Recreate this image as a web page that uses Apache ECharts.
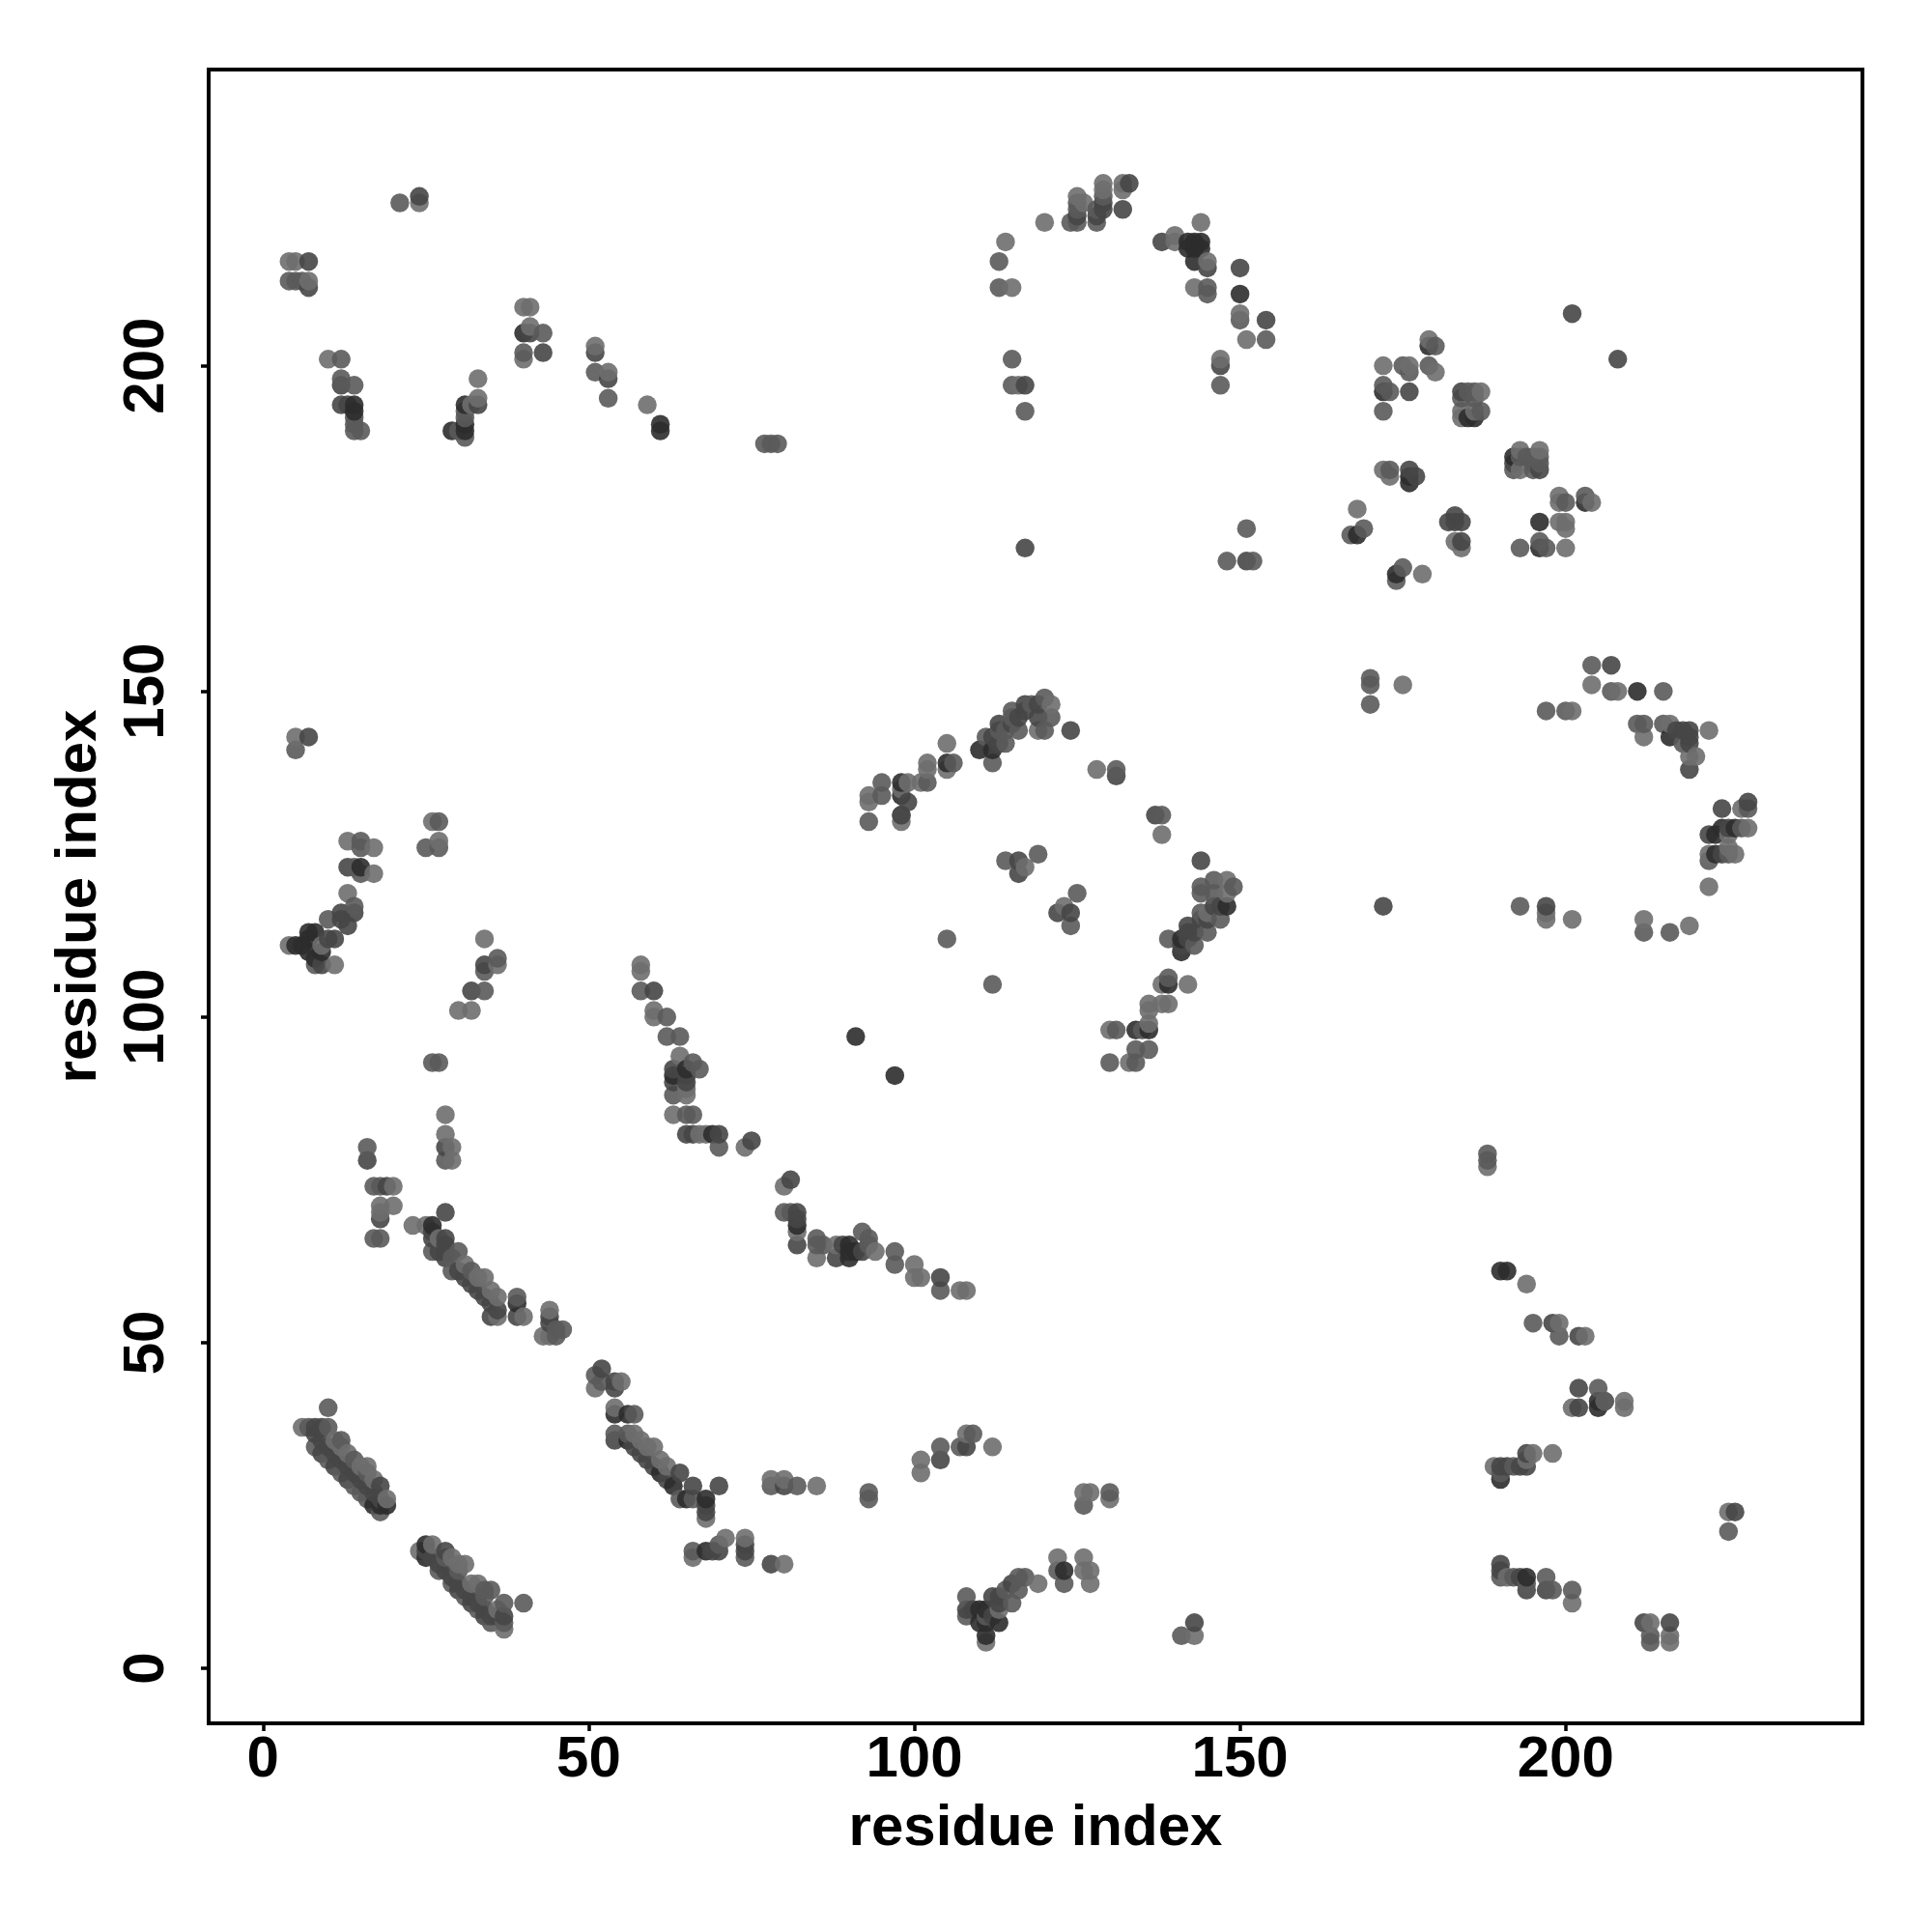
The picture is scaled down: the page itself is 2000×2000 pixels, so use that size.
<!DOCTYPE html>
<html><head><meta charset="utf-8">
<script src="https://cdn.jsdelivr.net/npm/echarts@6/dist/echarts.min.js"></script>
<style>html,body{margin:0;padding:0;background:#fff}#c{width:2000px;height:2000px}</style></head>
<body><div id="c"></div>
<script>
const tickLabels = [0, 50, 100, 150, 200];
const axisTitle = 'residue index';
const lightPoints = [
[58,108],[58,107],[60,101],[60,100],[64,94],[63,85],[65,89],[65,88],[67,82],[68,82],[74,80],[80,74],
[82,67],[85,63],[88,65],[94,64],[100,62],[100,60],[101,60],[107,58],[108,58],
[93,134],[93,133],[98,130],[98,135],[99,136],[101,136],[102,139],[102,138],[105,142],[105,138],[119,144],[121,148],[128,138],[138,128],[117,123],[123,117],
[148,121],[148,119],[145,116],[138,105],[142,105],[136,102],[138,102],[139,102],[136,101],[136,99],[130,98],[133,93],
[5,143],[26,130],[27,127],[13,127],[17,126],[17,122],[13,119],[4,111],[9,111],[11,108],[34,112],[36,108],[30,101],[32,101],
[28,85],[28,82],[29,80],[29,78],[20,74],[18,71],[20,71],[18,70],[23,68],[25,68],[27,66],
[31,62],[34,60],[36,57],[36,54],[35,58],[33,60],[40,54],[44,55],[43,51],[44,51],[51,43],[55,44],[54,40],[57,36],[60,34],[59,34],[61,32],[62,31],[68,23],[58,35],
[6,37],[13,33],[15,31],[16,31],[19,26],[11,35],[12,34],[17,29],[24,18],[26,19],[29,17],[31,16],[30,16],[33,13],[36,9],[37,6],[32,13],
[78,29],[80,29],[85,28],[101,32],[101,30],[108,36],[112,34],[126,27],[127,27],[130,26],[122,17],[126,17],[126,15],[127,15],[127,13],[119,13],[113,9],[111,4],[143,5],[74,20],[80,16],[66,17],[71,20],
[188,77],[194,59],[199,53],[203,51],[201,40],[206,41],[209,41],[209,40],[195,33],[198,33],[189,31],[194,32],[191,14],[201,10],[213,7],[216,5],[216,4],[225,24],
[175,151],[204,151],[208,150],[201,147],[212,143],[216,145],[219,140],[220,140],[222,144],[227,132],[228,129],[225,128],[222,125],[225,126],[226,125],[222,120],[197,116],[197,115],[201,115],[212,115],[219,114],
[172,200],[176,200],[179,204],[180,199],[187,196],[184,193],[184,192],[186,193],[193,187],[196,187],[193,184],[172,184],[173,183],[168,178],[183,173],[184,172],[199,180],[199,179],[204,179],[199,176],[200,176],[200,175],[200,172],[178,168],
[120,222],[114,219],[115,212],[116,197],[125,226],[126,225],[129,228],[129,227],[132,228],[132,227],[140,220],[140,219],[144,222],[145,216],[143,212],[150,208],[151,204],[147,201],
[24,225],[4,216],[5,216],[7,213],[10,201],[32,194],[33,198],[33,195],[40,209],[41,209],[41,206],[40,201],[51,203],[53,199],[59,194]
];
const midPoints = [
[58,104],[62,100],[62,97],[64,97],[66,93],[67,92],[63,88],[66,85],[65,85],[70,80],[80,70],[81,70],[85,66],[85,65],[86,65],[92,67],[93,66],[93,65],[97,64],[97,62],[104,58],[105,112],[112,105],
[93,130],[95,136],[95,134],[98,131],[102,136],[106,139],[111,143],[112,139],[114,142],[114,144],[115,147],[115,146],[116,144],[120,144],[120,149],[121,146],[131,138],[138,131],[114,124],[119,125],[125,119],[124,114],
[144,120],[144,119],[146,121],[149,120],[147,115],[145,113],[144,116],[143,111],[139,112],[139,106],[135,98],[131,98],[134,95],[136,95],[130,93],[134,93],[113,144],[118,148],[146,119],
[5,141],[27,130],[25,126],[27,126],[15,127],[15,126],[14,123],[15,122],[14,117],[10,115],[8,108],[36,109],[34,107],[34,104],[26,93],[27,93],[16,80],[17,74],[18,74],
[28,78],[17,66],[18,66],[26,64],[30,64],[29,63],[32,61],[29,61],[39,57],[45,51],[46,52],[45,52],[52,44],[57,39],[54,36],[56,36],[64,26],[66,26],[51,45],
[10,40],[7,37],[10,37],[12,35],[15,27],[18,24],[14,32],[16,30],[8,34],[10,32],[12,30],[14,28],[16,26],
[27,15],[34,12],[35,12],[37,10],[40,10],[37,7],[28,17],[30,15],[34,11],[29,13],[31,11],[33,9],[35,7],
[78,28],[82,28],[93,27],[93,26],[104,34],[107,34],[109,36],[126,25],[130,27],[122,15],[123,13],[117,14],[116,14],[116,12],[115,10],[114,12],[108,11],[108,8],[111,8],[141,5],[74,17],[66,18],[70,19],
[188,79],[188,78],[195,53],[199,51],[205,43],[206,41],[192,31],[190,30],[190,14],[192,14],[194,13],[197,14],[198,12],[201,12],[213,5],[213,4],[225,21],
[170,152],[170,151],[170,148],[204,154],[207,150],[215,150],[197,147],[200,147],[211,145],[212,145],[215,145],[218,142],[228,132],[227,129],[222,124],[225,125],[193,117],[212,113],[216,113],
[175,200],[176,199],[180,203],[179,200],[172,197],[173,196],[172,193],[185,196],[186,196],[184,195],[186,195],[187,193],[193,186],[194,186],[195,186],[196,186],[195,185],[196,185],[192,184],[195,184],[173,184],[167,174],[169,175],[200,179],[203,180],[193,172],[196,173],[197,172],[174,167],[175,169],
[113,216],[113,212],[115,201],[115,197],[117,193],[124,222],[125,222],[125,225],[125,224],[128,222],[128,224],[129,226],[145,212],[145,211],[150,207],[154,204],[147,197],
[21,225],[4,213],[5,213],[6,213],[12,201],[12,198],[14,197],[14,192],[14,191],[14,190],[15,190],[30,190],[31,193],[31,192],[31,189],[43,205],[40,202],[51,199],[53,195],[77,188],[78,188],[79,188],[148,170],[151,175],[152,170]
];
const darkPoints = [
[60,104],[63,90],[65,90],[65,91],[70,82],[65,82],[66,82],[81,75],[82,70],[82,69],[82,65],[88,63],[89,65],[92,64],[104,60],[75,81],[63,92],
[98,131],[99,133],[112,143],[113,145],[113,142],[115,145],[116,146],[117,148],[117,147],[119,146],[119,148],[124,144],[131,137],[137,131],[144,124],[116,124],[116,122],[122,116],[124,116],
[146,117],[147,117],[142,114],[142,113],[143,113],[144,115],[142,112],[145,115],[141,111],
[7,143],[13,123],[14,116],[12,116],[12,115],[13,114],[11,112],[10,112],[9,108],[34,108],[32,104],[16,78],[19,74],[28,80],[28,70],
[18,69],[26,67],[26,66],[28,66],[28,65],[28,64],[35,54],[39,54],[44,53],[44,54],[52,46],[54,43],[54,44],[54,35],[64,30],[66,28],[68,24],[68,25],[70,28],[28,63],[30,61],[32,59],[34,57],[36,55],[27,64],[31,60],[33,58],[35,56],
[8,37],[9,37],[18,28],[8,36],[10,34],[12,32],[14,30],[16,28],[18,26],[9,33],[11,31],[13,29],[9,35],[11,33],[13,31],[15,29],[17,27],
[28,18],[37,8],[27,16],[29,14],[31,12],[33,10],[35,8],[26,17],[25,18],[30,12],[32,10],[34,8],[28,15],[30,13],[32,11],[34,9],[36,8],
[80,28],[78,16],[104,32],[108,34],[115,13],[112,11],[113,11],[113,10],[108,9],[109,9],[112,8],[74,19],[74,18],[69,18],[70,18],[143,7],
[198,53],[202,51],[202,43],[202,40],[194,33],[190,31],[191,31],[193,31],[194,31],[190,16],[190,15],[193,14],[194,12],[197,12],[212,7],[216,7],[226,24],
[207,154],[217,144],[218,144],[219,144],[219,143],[219,142],[219,138],[224,132],[228,133],[222,128],[225,129],[224,125],[172,117],[197,117],
[201,208],[208,201],[176,196],[184,196],[192,185],[196,184],[176,184],[177,183],[182,176],[183,177],[183,176],[184,176],[184,173],
[138,219],[117,197],[125,223],[128,223],[129,225],[129,224],[133,228],[132,224],[145,215],[150,215],[154,207],[147,200],
[24,226],[7,216],[7,212],[12,197],[12,194],[13,194],[43,202],[41,205],[51,202],[53,198],[117,172],[151,170],[33,194],
[58,33],[60,31],[62,29],[57,34],[59,32]
];
const blackPoints = [
[91,97],[97,91],[63,91],[65,92],[82,68],[90,65],[90,64],[90,63],[91,64],[69,82],
[110,141],[112,141],[98,136],[98,134],[105,139],[148,117],[141,112],[141,110],[139,105],[136,98],[134,98],[123,15],
[5,111],[7,113],[7,112],[7,110],[6,111],[8,113],[8,109],[9,110],[15,123],[26,68],[39,56],[54,39],[56,39],[68,26],
[19,25],[17,25],[18,25],[25,19],[25,17],
[68,18],[113,7],[110,9],[111,9],[110,7],[111,7],[111,5],[61,30],[63,28],[65,26],[56,35],
[190,61],[191,61],[205,40],[205,41],[190,29],[194,14],
[211,150],[216,143],[224,129],[223,128],[226,129],[223,125],
[179,203],[172,196],[185,192],[186,192],[192,186],[176,183],[176,182],[168,174],[203,179],[196,176],[196,172],[174,168],
[142,219],[143,219],[144,219],[142,218],[143,218],[144,218],[143,216],[150,211],
[14,194],[14,193],[29,190],[31,194],[31,191],[31,190],[40,205],[61,191],[61,190]
];
const shades = [
  {points: lightPoints, color: 'rgba(110,110,110,0.9)'},
  {points: midPoints, color: 'rgba(90,90,90,0.9)'},
  {points: darkPoints, color: 'rgba(70,70,70,0.9)'},
  {points: blackPoints, color: 'rgba(44,44,44,0.9)'}
];
const cells = [];
shades.forEach(s => s.points.forEach(p => cells.push({value: p, itemStyle: {color: s.color, opacity: 1}})));
cells.sort((a, b) => a.value[0] - b.value[0] || a.value[1] - b.value[1]);

const font = '"Liberation Sans", Arial, sans-serif';
const axisCommon = {
  type: 'value', name: axisTitle, nameLocation: 'middle',
  nameTextStyle: {fontFamily: font, fontWeight: 'bold', fontSize: 60, color: '#000'},
  splitLine: {show: false},
  axisLine: {show: true, onZero: false, lineStyle: {color: '#000', width: 4}},
  axisTick: {show: true, length: 8, customValues: tickLabels, lineStyle: {color: '#000', width: 3.5}}
};
const chart = echarts.init(document.getElementById('c'), null, {renderer: 'canvas'});
chart.setOption({
  animation: false, backgroundColor: '#fff',
  grid: {left: 216, top: 72, width: 1712, height: 1712, show: true, borderColor: '#000', borderWidth: 4, backgroundColor: 'transparent'},
  xAxis: Object.assign({}, axisCommon, {min: -8.35, max: 245.57, nameGap: 79,
    axisLabel: {customValues: tickLabels, fontFamily: font, fontWeight: 'bold', fontSize: 60, color: '#000', margin: 8, hideOverlap: false}}),
  yAxis: Object.assign({}, axisCommon, {min: -8.45, max: 245.47, nameGap: 104, nameRotate: 90,
    axisLabel: {customValues: tickLabels, rotate: 90, fontFamily: font, fontWeight: 'bold', fontSize: 60, color: '#000', margin: 34, hideOverlap: false}}),
  series: [{type: 'scatter', symbol: 'circle', symbolSize: 19.5, data: cells, silent: true, itemStyle: {borderWidth: 0, opacity: 1}}]
});
</script></body></html>
